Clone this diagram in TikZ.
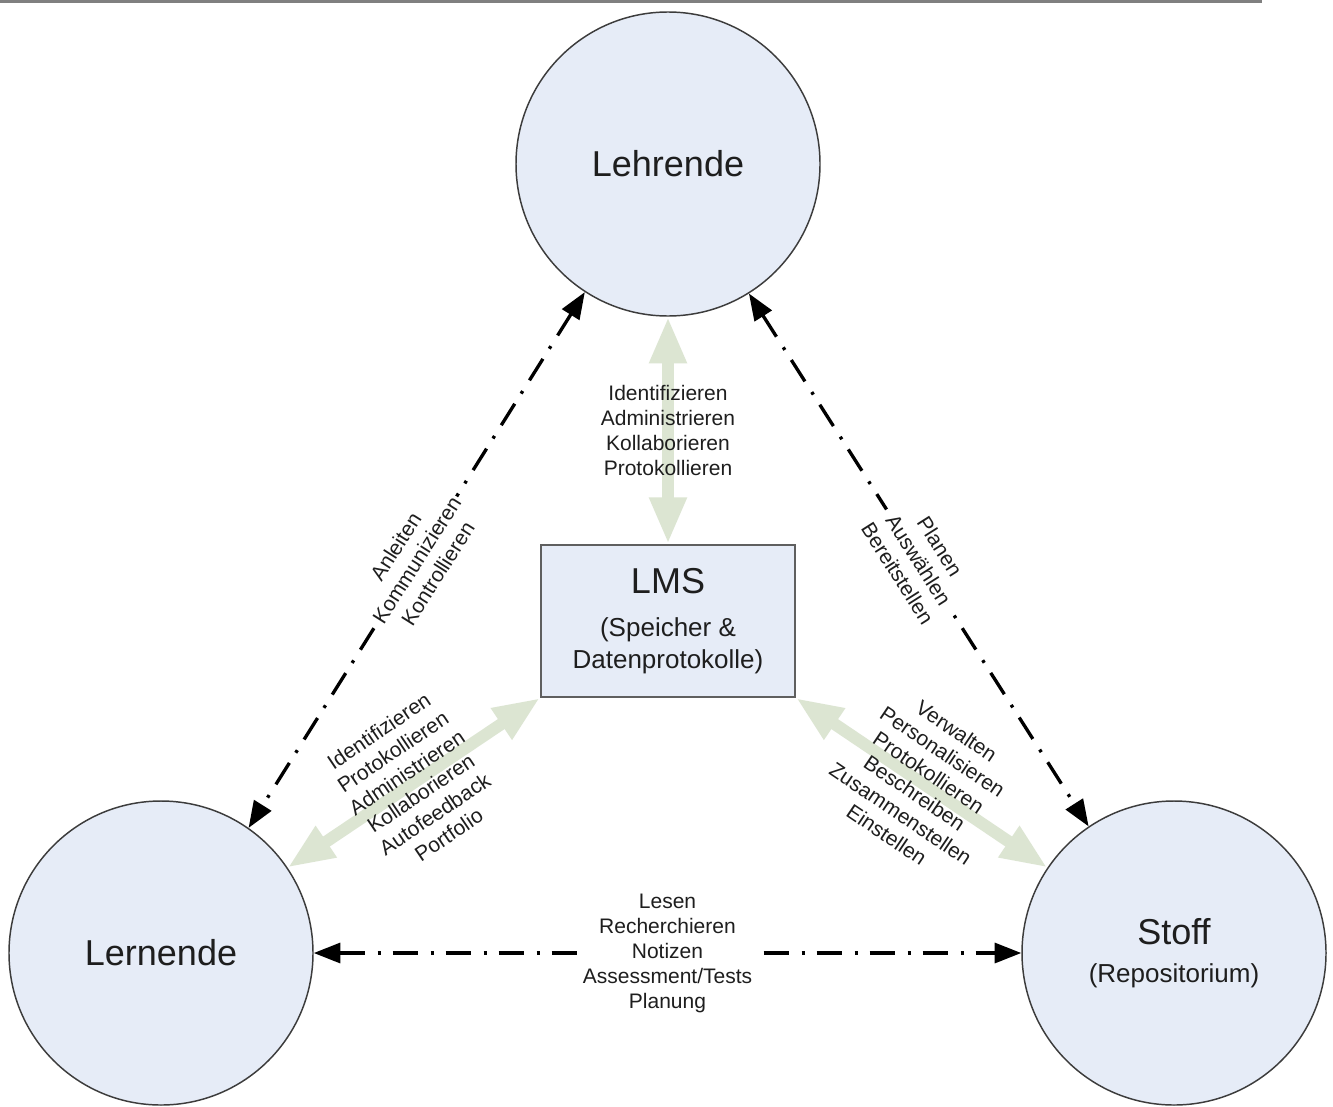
\documentclass[tikz,border=0pt]{standalone}
\usepackage{fontspec}
\setmainfont{Liberation Sans}
\usetikzlibrary{arrows.meta}
\definecolor{nodefill}{RGB}{230,236,247}
\definecolor{nodeline}{RGB}{60,60,60}
\definecolor{boxline}{RGB}{95,95,95}
\definecolor{linkgreen}{RGB}{220,229,210}
\definecolor{textgray}{RGB}{30,30,30}
\definecolor{rulegray}{RGB}{128,128,128}
\begin{document}
\begin{tikzpicture}[x=0.75pt,y=-0.75pt,
  actor/.style={circle, draw=nodeline, line width=1.1pt, fill=nodefill,
    minimum size=228pt, inner sep=0pt, align=center, text=textgray,
    font=\fontsize{27}{30}\selectfont},
  lmsbox/.style={rectangle, draw=boxline, line width=1.5pt, fill=nodefill,
    minimum width=190.5pt, minimum height=114pt, inner sep=0pt,
    align=center, text=textgray, font=\fontsize{19.5}{24}\selectfont},
  ddarrow/.style={line width=2.5pt,
    dash pattern=on 19pt off 9.5pt on 2.25pt off 9pt,
    {Triangle[length=20pt,width=15pt]}-{Triangle[length=20pt,width=15pt]}},
  greenarrow/.style={draw=linkgreen, line width=9pt,
    {Triangle[length=35pt,width=26pt]}-{Triangle[length=35pt,width=26pt]}},
  lbl/.style={font=\fontsize{15.75}{18.75}\selectfont, align=center,
    text=textgray, inner sep=1.5pt},
  lblw/.style={lbl, fill=white}
]
\useasboundingbox (0,0) rectangle (1333,1106);
\fill[white] (0,0) rectangle (1333,1106);
\draw[rulegray, line width=2.25pt] (0,1.5) -- (1262,1.5);

\node[actor] (leh) at (668,164) {Lehrende};
\node[actor] (lern) at (161,953) {Lernende};
\node[actor] (stoff) at (1174,953) {\raisebox{-4pt}{Stoff}\\[-2pt]\fontsize{19.5}{22}\selectfont\raisebox{-4pt}{(Repositorium)}};
\node[lmsbox] (lms) at (668,621)
  {\fontsize{27}{24}\selectfont LMS\\[8pt]\fontsize{19.5}{24}\selectfont (Speicher \&\\\fontsize{19.5}{24}\selectfont Datenprotokolle)};

% green connections
\draw[greenarrow] (leh.south) -- node[lbl] (lblLMSup)
  {Identifizieren\\Administrieren\\Kollaborieren\\Protokollieren} (lms.north);
\draw[greenarrow] (lern.34) -- node[lbl, rotate=34] (lblLMSleft)
  {Identifizieren\\Protokollieren\\Administrieren\\Kollaborieren\\Autofeedback\\Portfolio} (lms.south west);
\draw[greenarrow] (stoff.146) -- node[lbl, rotate=-34] (lblLMSright)
  {Verwalten\\Personalisieren\\Protokollieren\\Beschreiben\\Zusammenstellen\\Einstellen} (lms.south east);

% dash-dot connections
\draw[ddarrow] (leh.237.6) -- node[lblw, rotate=57.6] (lblLL)
  {Anleiten\\Kommunizieren\\Kontrollieren} (lern.55.7);
\draw[ddarrow] (leh.302.4) -- node[lblw, rotate=-57.6] (lblLS)
  {Planen\\Auswählen\\Bereitstellen} (stoff.124.3);
\draw[ddarrow] (lern.east) -- node[lblw] (lblLernS)
  {Lesen\\Recherchieren\\Notizen\\Assessment/Tests\\Planung} (stoff.west);
\end{tikzpicture}
\end{document}
